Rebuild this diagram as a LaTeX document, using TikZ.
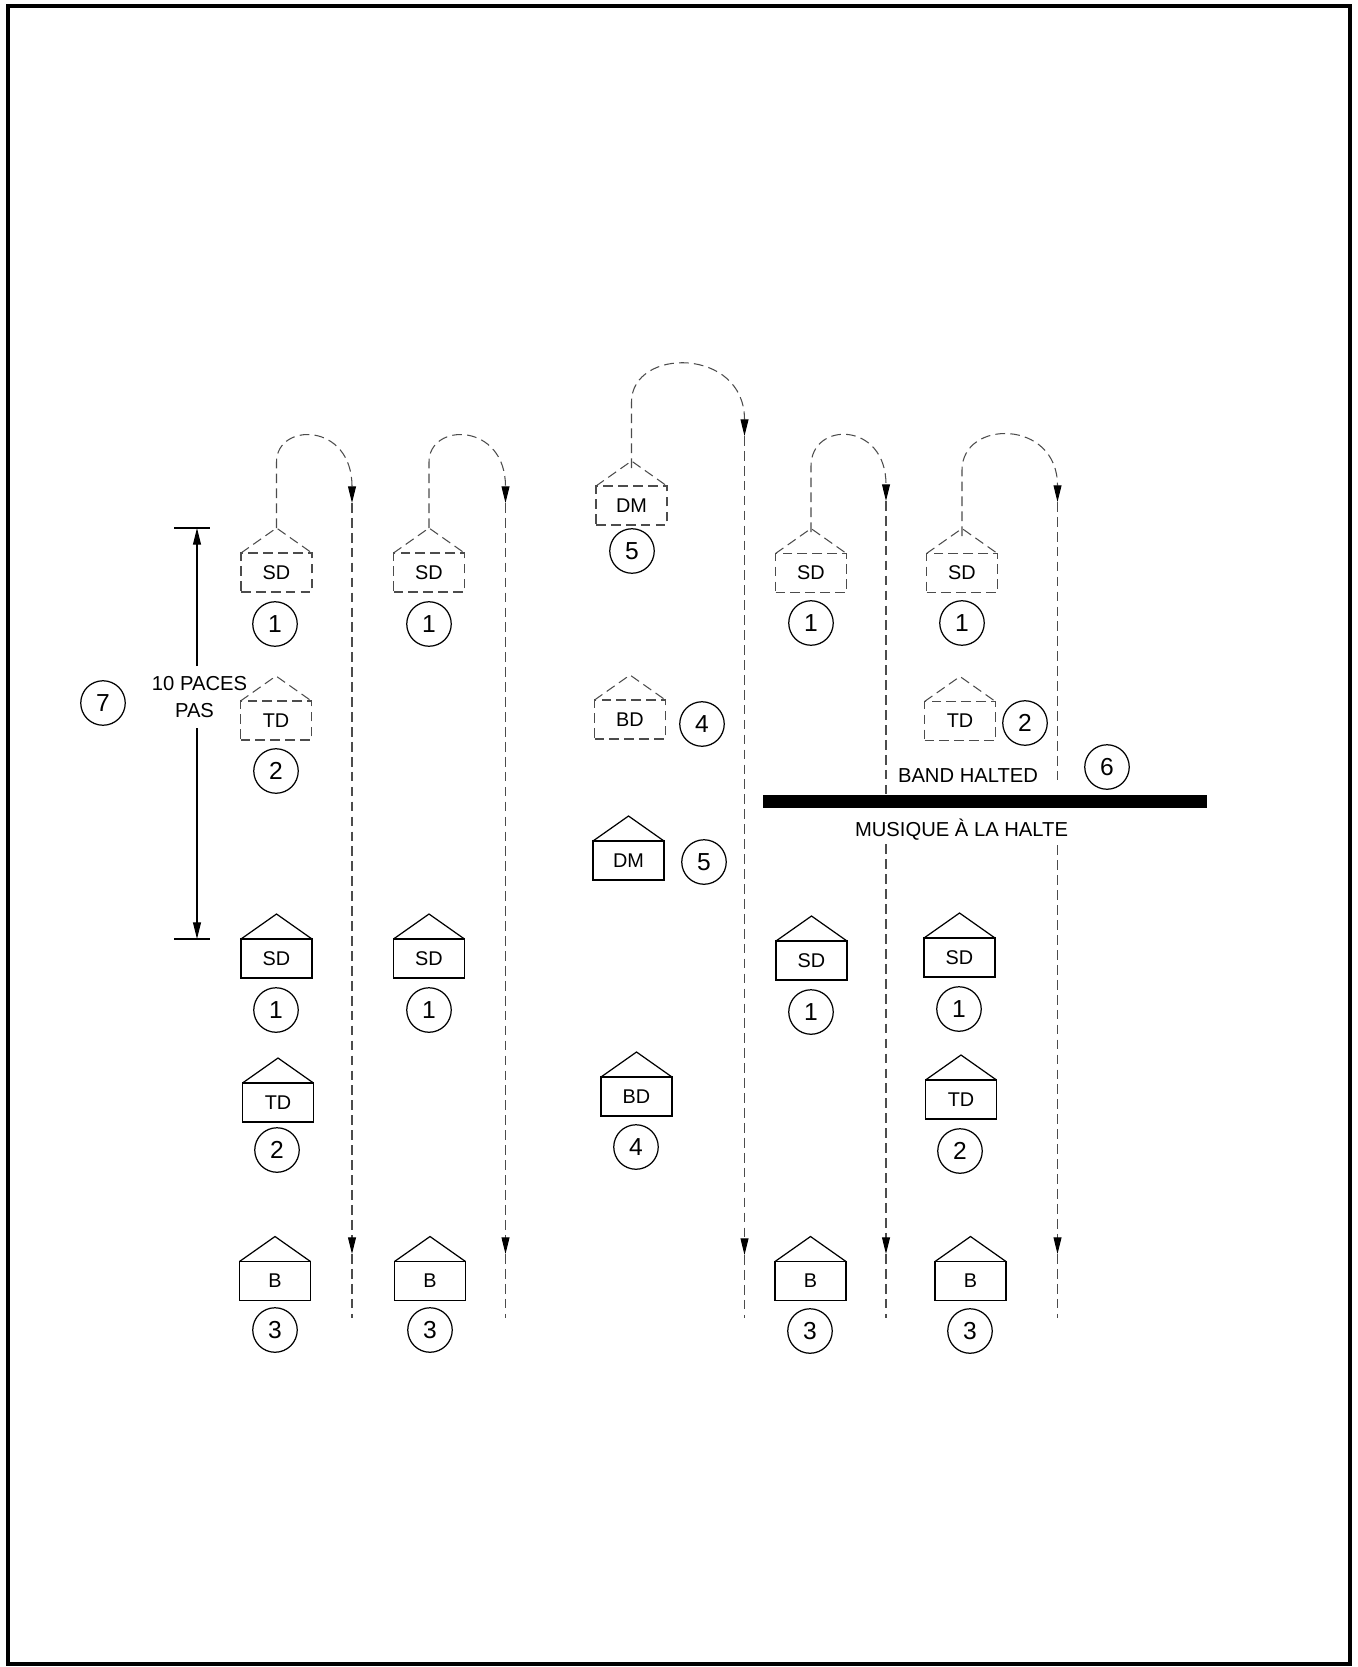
\documentclass[tikz,border=0pt]{standalone}
\usepackage{fontspec}
\setmainfont{Liberation Sans}
\usetikzlibrary{arrows.meta}
\tikzset{
 x=0.02cm, y=-0.02cm,
 solidln/.style={draw=black, line width=0.7pt},
 dashln/.style={draw=black!70, line width=0.6pt, dash pattern=on 5.5pt off 3pt},
 pbox/.style={rectangle, minimum width=1.42cm, minimum height=0.78cm, inner sep=0pt, outer sep=0pt, font=\fontsize{11.3}{13}\selectfont},
 num/.style={circle, draw, line width=0.7pt, minimum size=0.89cm, inner sep=0pt, font=\fontsize{14}{16}\selectfont},
 lbl/.style={font=\fontsize{11.5}{13}\selectfont, inner sep=0pt, anchor=base},
 tipd/.style={-{Triangle[length=9.5pt,width=4.5pt,color=black]}},
}
\newcommand\pent[5]{%
  \node[pbox,#5] (#1) at (#2,#3) {#4};
  \draw[#5] (#1.north west) -- ++(35.5,-25) -- (#1.north east);
}
\newcommand\loopcol[7]{% name, s, r, st, c, a, tipy
  \draw[dashln,tipd] (#2,#4+66) -- (#2,#4) .. controls (#2,#5) and (#3,#5) .. (#3,#6);
  \coordinate (#1a) at (#3,#6);
  \coordinate (#1b) at (#3,#7);
  \coordinate (#1c) at (#3,1318);
  \draw[dashln,tipd] (#1a) -- (#1b);
  \draw[dashln] (#1b) -- (#1c);
}
\begin{document}
\begin{tikzpicture}
\useasboundingbox (0,0) rectangle (1357,1667);
\draw[line width=2.5pt] (8,6) rectangle (1350,1664);

% paths (behind)
\loopcol{p1}{276.5}{352}{462}{422}{503}{1254}
\loopcol{p2}{429}{505.5}{462}{422}{503}{1254}
\loopcol{p3}{631.5}{744.5}{402}{347}{436}{1255}
\loopcol{p4}{811}{886}{466}{421}{501}{1254}
\loopcol{p5}{962}{1057.5}{470}{419}{502}{1254}

% dashed (initial) positions
\pent{SDa1}{276.5}{572.5}{SD}{dashln}
\pent{SDa2}{429}{572.5}{SD}{dashln}
\pent{DMa}{631.5}{505.5}{DM}{dashln}
\pent{SDa4}{811}{573}{SD}{dashln}
\pent{SDa5}{962}{573}{SD}{dashln}
\pent{TDa1}{276}{720.5}{TD}{dashln}
\pent{BDa}{630}{719.5}{BD}{dashln}
\pent{TDa5}{960}{721}{TD}{dashln}

% solid (final) positions
\pent{DMb}{628.5}{860.5}{DM}{solidln}
\pent{SDb1}{276.5}{958.5}{SD}{solidln}
\pent{SDb2}{429}{958.5}{SD}{solidln}
\pent{SDb4}{811.5}{960.5}{SD}{solidln}
\pent{SDb5}{959.5}{957.5}{SD}{solidln}
\pent{TDb1}{278}{1102.5}{TD}{solidln}
\pent{BDb}{636.5}{1096.5}{BD}{solidln}
\pent{TDb5}{961}{1099.5}{TD}{solidln}
\pent{Bb1}{275}{1281}{B}{solidln}
\pent{Bb2}{430}{1281}{B}{solidln}
\pent{Bb4}{810.5}{1281}{B}{solidln}
\pent{Bb5}{970.5}{1281}{B}{solidln}

% numbers
\node[num] (c1a1) at (275,624) {1};
\node[num] (c1a2) at (429,624) {1};
\node[num] (c5a) at (632,551) {5};
\node[num] (c1a4) at (811,623) {1};
\node[num] (c1a5) at (962,623) {1};
\node[num] (c2a1) at (276,771) {2};
\node[num] (c4a) at (702,724) {4};
\node[num] (c2a5) at (1025,723) {2};
\node[num] (c6) at (1107,767) {6};
\node[num] (c5b) at (704,862) {5};
\node[num] (c1b1) at (276,1010) {1};
\node[num] (c1b2) at (429,1010) {1};
\node[num] (c1b4) at (811,1012) {1};
\node[num] (c1b5) at (959,1009) {1};
\node[num] (c2b1) at (277,1150) {2};
\node[num] (c4b) at (636,1147) {4};
\node[num] (c2b5) at (960,1151) {2};
\node[num] (c3b1) at (275,1330) {3};
\node[num] (c3b2) at (430,1330) {3};
\node[num] (c3b4) at (810,1331) {3};
\node[num] (c3b5) at (970,1331) {3};
\node[num] (c7) at (103,703) {7};

% halt line with label backgrounds
\fill[white] (892,781) rectangle (1066,795);
\fill[white] (850,808) rectangle (1076,843);
\fill (763,795) rectangle (1207,808);
\node[lbl] (band) at (968,782) {BAND HALTED};
\node[lbl] (musique) at (961.5,836) {MUSIQUE À LA HALTE};

% dimension
\coordinate (dtop) at (197,528);
\coordinate (dbot) at (197,939);
\coordinate (dtopl) at (174,528);
\coordinate (dtopr) at (210,528);
\coordinate (dbotl) at (174,939);
\coordinate (dbotr) at (210,939);
\coordinate (dgap1) at (197,666);
\coordinate (dgap2) at (197,728);
\draw[solidln] (dtopl) -- (dtopr);
\draw[solidln] (dbotl) -- (dbotr);
\draw[solidln,tipd] (dgap1) -- (dtop);
\draw[solidln,tipd] (dgap2) -- (dbot);
\node[lbl] (paces) at (199.5,690) {10 PACES};
\node[lbl] (pas) at (194.5,717) {PAS};
\end{tikzpicture}
\end{document}
